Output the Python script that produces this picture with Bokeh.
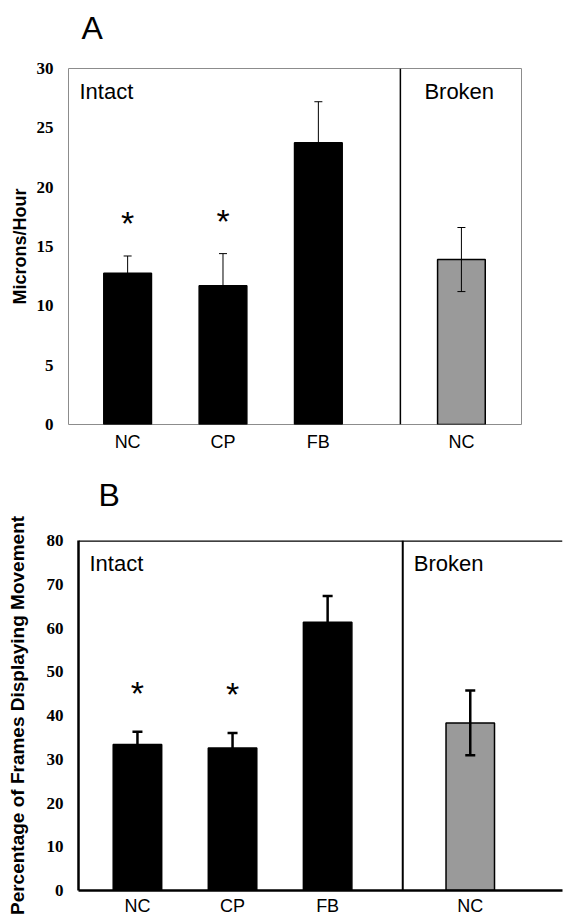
from bokeh.plotting import figure
from bokeh.models import (ColumnDataSource, Whisker, TeeHead, Span, Label,
                          FixedTicker, Range1d)
from bokeh.embed import file_html
from bokeh.resources import INLINE
from bokeh.core.properties import value

# ---------------- data ----------------
categories = ["NC", "CP", "FB", "NC"]
groups = ["Intact", "Intact", "Intact", "Broken"]
speed_means = [12.75, 11.7, 23.75, 13.9]      # Microns/Hour
speed_sem = [1.45, 2.7, 3.45, 2.7]
frames_means = [33.4, 32.6, 61.3, 38.3]        # % frames displaying movement
frames_sem = [2.9, 3.4, 6.0, 7.4]
significant = ["*", "*", "", ""]
speed_ticks = [0, 5, 10, 15, 20, 25, 30]
frames_ticks = [0, 10, 20, 30, 40, 50, 60, 70, 80]

# positions: unit spacing inside a group, 1.5 between groups
pos = []
xx = 1.0
for i, g in enumerate(groups):
    if i > 0:
        xx += 1.0 if g == groups[i - 1] else 1.5
    pos.append(xx)
bar_colors = ["black" if g == "Intact" else "#9a9a9a" for g in groups]
last_intact = max(p_ for p_, g in zip(pos, groups) if g == "Intact")

SANS = "Liberation Sans"
SERIF = "Liberation Serif"
W = 563


def letter_strip(letter, height, left, top):
    """A thin strip holding the panel letter above a panel."""
    s = figure(width=W, height=height, x_range=Range1d(0, W),
               y_range=Range1d(0, height), output_backend="svg",
               toolbar_location=None, min_border_left=0, min_border_right=0,
               min_border_top=0, min_border_bottom=0)
    s.axis.visible = False
    s.grid.visible = False
    s.outline_line_color = None
    s.text(x=[left], y=[height], y_offset=top, text=[letter],
           text_baseline="top", text_align="left",
           text_font=value(SANS), text_font_size="32px", text_color="black")
    return s


def make_panel(means, sems, yticks, ylabel, height, cfg):
    ymax = yticks[-1]
    p = figure(width=W, height=height,
               x_range=Range1d(0.38, cfg["xend"]), y_range=Range1d(0, ymax),
               output_backend="svg", toolbar_location=None,
               min_border_left=cfg["bl"], min_border_right=cfg["br"],
               min_border_top=cfg["bt"], min_border_bottom=cfg["bb"])
    p.grid.visible = False
    p.background_fill_color = "white"
    p.border_fill_color = "white"

    src = ColumnDataSource(dict(
        x=pos, top=means, color=bar_colors,
        upper=[m + s for m, s in zip(means, sems)],
        lower=[m - s for m, s in zip(means, sems)],
        star=significant, cat=categories))

    p.vbar(x="x", top="top", bottom=0, width=cfg["bw"], source=src,
           fill_color="color", line_color="black", line_width=1.5)

    w = Whisker(base="x", upper="upper", lower="lower", source=src,
                line_color=cfg["ec"], line_width=cfg["ew"],
                upper_head=TeeHead(size=cfg["cap"], line_color=cfg["ec"], line_width=cfg["ew"]),
                lower_head=TeeHead(size=cfg["cap"], line_color=cfg["ec"], line_width=cfg["ew"]))
    w.level = "overlay"
    p.add_layout(w)

    p.text(x="x", y="upper", text="star", source=src, text_align="center",
           text_baseline="middle", y_offset=cfg["star_off"],
           text_font=value(SANS), text_font_size="34px", text_color="black")

    # divider between Intact and Broken
    p.add_layout(Span(location=last_intact + cfg["div"], dimension="height",
                      line_color="black", line_width=cfg["dw"]))

    # group names
    p.add_layout(Label(x=0.38, y=ymax, x_offset=11, y_offset=-10, text="Intact",
                       text_baseline="top", text_font=SANS, text_font_size="22px",
                       text_color="black"))
    p.add_layout(Label(x=last_intact + cfg["div"], y=ymax, x_offset=cfg["brk"],
                       y_offset=-10, text="Broken", text_baseline="top",
                       text_font=SANS, text_font_size="22px", text_color="black"))

    # axes
    p.yaxis.ticker = FixedTicker(ticks=yticks)
    p.yaxis.axis_label = ylabel
    p.yaxis.axis_label_text_font = SANS
    p.yaxis.axis_label_text_font_style = "bold"
    p.yaxis.axis_label_text_font_size = cfg["ylfs"]
    p.yaxis.axis_label_standoff = cfg["yls"]
    p.yaxis.major_label_text_font = SERIF
    p.yaxis.major_label_text_font_style = "bold"
    p.yaxis.major_label_text_font_size = "17px"
    p.yaxis.major_label_standoff = 15

    p.xaxis.ticker = FixedTicker(ticks=pos)
    p.xaxis.major_label_overrides = {x: c for x, c in zip(pos, categories)}
    p.xaxis.major_label_text_font = SANS
    p.xaxis.major_label_text_font_size = "18px"
    p.xaxis.major_label_standoff = cfg["xls"]

    for ax in (p.xaxis, p.yaxis):
        ax.major_tick_line_color = None
        ax.minor_tick_line_color = None
        ax.major_tick_out = 0
        ax.major_tick_in = 0
        ax.major_label_text_color = "black"
        ax.axis_label_text_color = "black"
    return p


cfg_a = dict(xend=5.13, bl=68, br=42, bt=20, bb=36, bw=0.5, ec="black", ew=1,
             cap=8, star_off=-33, div=0.86, dw=1.5, brk=24,
             ylfs="18px", yls=4, xls=7)
cfg_b = dict(xend=5.47, bl=78, br=1, bt=24, bb=30, bw=0.51, ec="black", ew=2.5,
             cap=10, star_off=-39, div=0.79, dw=2, brk=11,
             ylfs="19px", yls=16, xls=5)

la = letter_strip("A", 48, 81, 9)
pa = make_panel(speed_means, speed_sem, speed_ticks, "Microns/Hour", 412, cfg_a)
pa.outline_line_color = "#8c8c8c"
pa.outline_line_width = 1
pa.xaxis.axis_line_color = None
pa.yaxis.axis_line_color = None

lb = letter_strip("B", 56, 98, 16)
pb = make_panel(frames_means, frames_sem, frames_ticks,
                "Percentage of Frames Displaying Movement", 404, cfg_b)
pb.outline_line_color = None
pb.xaxis.axis_line_color = "black"
pb.xaxis.axis_line_width = 2.5
pb.yaxis.axis_line_color = "black"
pb.yaxis.axis_line_width = 2.5
pb.add_layout(Span(location=frames_ticks[-1], dimension="width",
                   line_color="black", line_width=2.5))

open("out.html", "w").write(file_html([la, pa, lb, pb], INLINE))
